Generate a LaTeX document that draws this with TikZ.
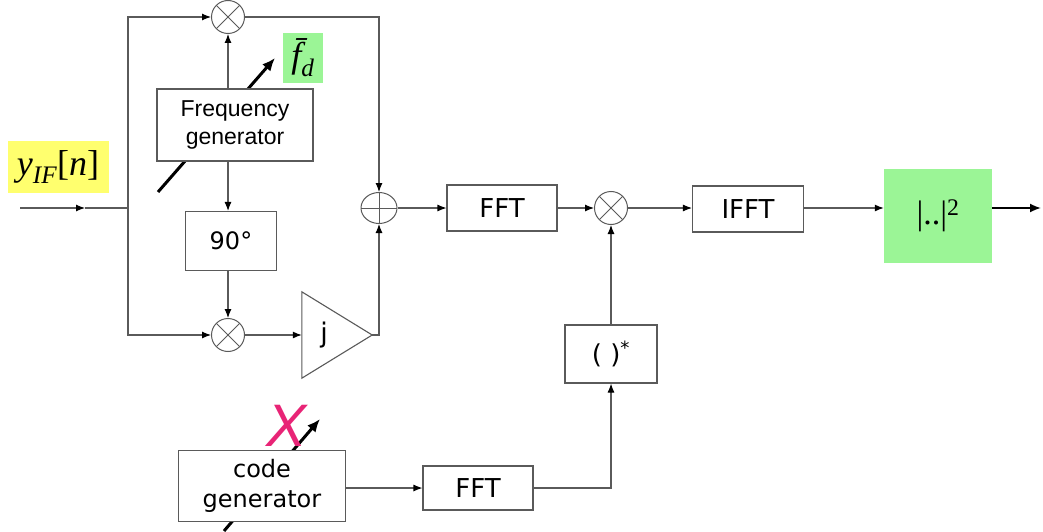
\documentclass[tikz,border=0pt]{standalone}
\usepackage{fontspec}
\setsansfont{DejaVu Sans}
\newfontfamily\arialfont{Liberation Sans}
\newfontfamily\timesfont{Liberation Serif}
\usetikzlibrary{shapes.geometric,arrows.meta}
\definecolor{tunegreen}{RGB}{155,245,150}
\definecolor{inyellow}{RGB}{255,255,110}
\definecolor{crosspink}{RGB}{232,36,118}
\definecolor{wire}{RGB}{90,90,90}

\begin{document}
\begin{tikzpicture}[x=1pt, y=-1pt]
  \tikzstyle{wireline} = [draw=wire, line width=1.1pt]
  \tikzstyle{arrow} = [wireline, -{Latex[length=9pt,width=7pt,color=black]}]
  \tikzstyle{block} = [rectangle, draw=wire, line width=1.1pt, fill=white, inner sep=0pt, align=center, font=\sffamily\fontsize{26}{30}\selectfont]
  \tikzstyle{mixer} = [circle, draw=wire, line width=1pt, fill=white, minimum size=33pt, inner sep=0pt,
    path picture={\draw[wire, line width=0.8pt] (path picture bounding box.north west) -- (path picture bounding box.south east)
      (path picture bounding box.north east) -- (path picture bounding box.south west);}]
  \tikzstyle{adder} = [ellipse, draw=wire, line width=1pt, fill=white, minimum width=36pt, minimum height=31pt, inner sep=0pt,
    path picture={\draw[wire, line width=0.8pt] (path picture bounding box.west) -- (path picture bounding box.east)
      (path picture bounding box.north) -- (path picture bounding box.south);}]
  \tikzstyle{tune} = [line width=3pt, -{Latex[length=13pt,width=11pt]}]
  \tikzstyle{label} = [inner sep=0pt, font=\timesfont\fontsize{36}{38}\selectfont]

  \useasboundingbox (0,0) rectangle (1043,532);

  % Input
  \node [label, fill=inyellow, minimum width=101pt, minimum height=52pt] (yif) at (58,167)
    {\itshape y\textsubscript{\itshape IF}\upshape[\itshape n\upshape]};
  \coordinate (yin) at (20,208);
  \coordinate (ymid) at (85,208);
  \coordinate (split) at (128,208);

  % Frequency generator and the I/Q branches
  \coordinate (fgtail) at (158,192);
  \coordinate (fghead) at (275,58);
  \draw [tune] (fgtail) -- (fghead);
  \node [label, fill=tunegreen, minimum width=40pt, minimum height=50pt] (fd) at (303,58) {\itshape\={f}\textsubscript{\itshape d}};
  \node [block, font=\arialfont\fontsize{23}{28}\selectfont, minimum width=156pt, minimum height=72pt] (fg) at (235,125) {Frequency\\generator};
  \node [mixer] (mixup) at (228,17) {};
  \node [block, font=\sffamily\fontsize{24}{28}\selectfont, minimum width=91pt, minimum height=59pt] (shift) at (231,241) {90°};
  \node [mixer] (mixlo) at (228,335) {};
  \node [minimum width=70pt, minimum height=86pt, inner sep=0pt] (amp) at (337,335) {};
  \draw [wireline, fill=white] (amp.north west) -- (amp.east) -- (amp.south west) -- cycle;
  \node [font=\sffamily\fontsize{27}{28}\selectfont] (jlabel) at ([xshift=-13pt]amp.center) {j};
  \node [adder] (adder) at (379,208) {};

  % Main row
  \node [block, minimum width=110pt, minimum height=46pt] (fft) at (502,208) {FFT};
  \node [mixer] (mixfft) at (611,208) {};
  \node [block, minimum width=111pt, minimum height=46pt] (ifft) at (748,209) {IFFT};
  \node [label, fill=tunegreen, minimum width=108pt, minimum height=94pt, font=\timesfont\fontsize{34}{36}\selectfont] (mag) at (938,216) {|..|\textsuperscript{2}};
  \coordinate (out) at (1041,208);

  % Code branch
  \node [block, minimum width=92pt, minimum height=58pt] (conj) at (611,354) {( )\textsuperscript{*}};
  \coordinate (cgtail) at (224,531);
  \coordinate (cghead) at (320,419);
  \draw [tune] (cgtail) -- (cghead);
  \node [block, font=\sffamily\fontsize{24}{30}\selectfont, minimum width=167pt, minimum height=71pt] (codegen) at (262,486) {code\\generator};
  \node [text=crosspink, inner sep=0pt, font=\arialfont\itshape\fontsize{60}{60}\selectfont] (nox) at (287,426) {X};
  \node [block, minimum width=110pt, minimum height=44pt] (fft2) at (478,488) {FFT};

  % Arrows
  \draw [arrow] (yin) -- (ymid);
  \draw [wireline] (ymid) -- (split);
  \draw [arrow] (split) |- (mixup.west);
  \draw [arrow] (split) |- (mixlo.west);
  \draw [arrow] (fg.north -| mixup) -- (mixup.south);
  \draw [arrow] (fg.south -| mixup) -- (shift.north -| mixup);
  \draw [arrow] (shift.south -| mixlo) -- (mixlo.north);
  \draw [arrow] (mixlo.east) -- (amp.west);
  \draw [arrow] (mixup.east) -| (adder.north);
  \draw [arrow] (amp.east) -| (adder.south);
  \draw [arrow] (adder.east) -- (fft.west);
  \draw [arrow] (fft.east) -- (mixfft.west);
  \draw [arrow] (mixfft.east) -- (mixfft.east -| ifft.west);
  \draw [arrow] (mixfft -| ifft.east) -- (mixfft -| mag.west);
  \draw [line width=1.8pt, -{Latex[length=11pt,width=9pt]}] (mixfft -| mag.east) -- (out);
  \draw [arrow] (codegen.east |- fft2) -- (fft2.west);
  \draw [arrow] (fft2.east) -| (conj.south);
  \draw [arrow] (conj.north) -- (mixfft.south);

\end{tikzpicture}
\end{document}
